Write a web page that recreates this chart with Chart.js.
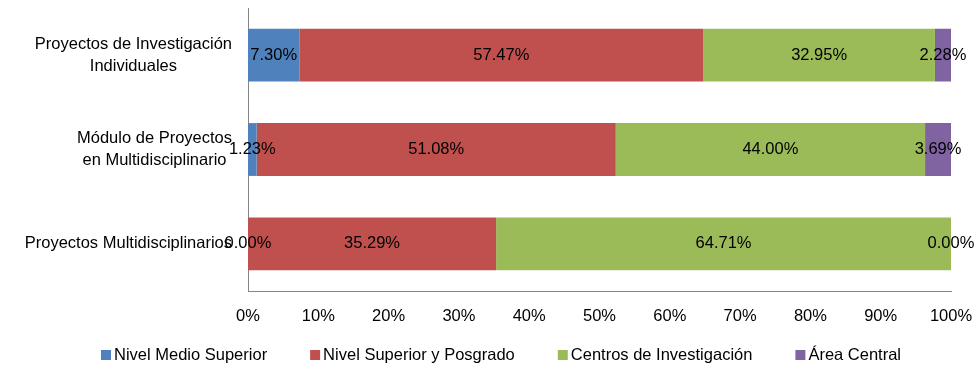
<!DOCTYPE html>
<html lang="es">
<head>
    <meta charset="UTF-8">
    <title>Proyectos por nivel</title>
    <script src="https://cdn.jsdelivr.net/npm/chart.js"></script>
    <style>
        html, body { margin: 0; padding: 0; background: #fff; }
        #grafico_wrap { width: 976px; height: 369px; }
    </style>
</head>
<body>
    <div id="grafico_wrap">
        <canvas id="grafico_proyectos"></canvas>
    </div>

<script>
// categorias (cada una puede ir en varias lineas)
const categorias = [
    ['Proyectos de Investigación', 'Individuales'],
    ['Módulo de Proyectos', 'en Multidisciplinario'],
    ['Proyectos Multidisciplinarios']
];

const nombresSeries = ['Nivel Medio Superior', 'Nivel Superior y Posgrado', 'Centros de Investigación', 'Área Central'];

// porcentajes por categoria
const medioSuperior = [7.30, 1.23, 0.00];
const superiorPosgrado = [57.47, 51.08, 35.29];
const centrosInvestigacion = [32.95, 44.00, 64.71];
const areaCentral = [2.28, 3.69, 0.00];

const ticksX = [0, 10, 20, 30, 40, 50, 60, 70, 80, 90, 100];

const colores = ['#4F81BD', '#C0504D', '#9BBB59', '#8064A2'];
const fuente = '"Liberation Sans", Arial, sans-serif';
const tamano = 16.5;

const valores = [medioSuperior, superiorPosgrado, centrosInvestigacion, areaCentral];

let dados = {
    labels: categorias.map(c => c.join(' ')),
    datasets: nombresSeries.map(function (nombre, i) {
        return {
            label: nombre,
            data: valores[i],
            backgroundColor: colores[i],
            borderWidth: 0,
            barPercentage: 0.56,
            categoryPercentage: 1
        };
    })
};

// etiquetas de valor dentro de cada barra
const etiquetasValor = {
    id: 'etiquetasValor',
    afterDatasetsDraw(chart) {
        const ctx = chart.ctx;
        ctx.save();
        ctx.font = tamano + 'px ' + fuente;
        ctx.fillStyle = '#000';
        ctx.textAlign = 'center';
        ctx.textBaseline = 'middle';
        chart.data.datasets.forEach(function (ds, i) {
            chart.getDatasetMeta(i).data.forEach(function (bar, j) {
                const x = (bar.x + bar.base) / 2;
                ctx.fillText(ds.data[j].toFixed(2) + '%', x, bar.y);
            });
        });
        ctx.restore();
    }
};

// etiquetas de categoria centradas linea por linea
const etiquetasCategoria = {
    id: 'etiquetasCategoria',
    afterDraw(chart) {
        const ctx = chart.ctx;
        const escalaY = chart.scales.y;
        ctx.save();
        ctx.font = tamano + 'px ' + fuente;
        ctx.fillStyle = '#000';
        ctx.textAlign = 'center';
        ctx.textBaseline = 'middle';
        const alto = 22;
        categorias.forEach(function (lineas, i) {
            const y = escalaY.getPixelForValue(i);
            let ancho = 0;
            lineas.forEach(l => { ancho = Math.max(ancho, ctx.measureText(l).width); });
            const cx = escalaY.right - 16 - ancho / 2;
            const y0 = y - (lineas.length - 1) * alto / 2;
            lineas.forEach(function (l, k) {
                ctx.fillText(l, cx, y0 + k * alto);
            });
        });
        ctx.restore();
    }
};

// leyenda abajo
const leyenda = {
    id: 'leyenda',
    afterDraw(chart) {
        const ctx = chart.ctx;
        ctx.save();
        ctx.font = tamano + 'px ' + fuente;
        ctx.textBaseline = 'middle';
        const caja = 10, separacion = 3, entre = 43;
        const anchos = chart.data.datasets.map(ds => ctx.measureText(ds.label).width);
        let total = 0;
        anchos.forEach(a => { total += caja + separacion + a; });
        total += entre * (anchos.length - 1);
        let x = 501 - total / 2;
        const y = 355;
        chart.data.datasets.forEach(function (ds, i) {
            ctx.fillStyle = ds.backgroundColor;
            ctx.fillRect(x, y - caja / 2, caja, caja);
            ctx.fillStyle = '#000';
            ctx.fillText(ds.label, x + caja + separacion, y);
            x += caja + separacion + anchos[i] + entre;
        });
        ctx.restore();
    }
};

const config = {
    type: 'bar',
    data: dados,
    options: {
        indexAxis: 'y',
        responsive: true,
        maintainAspectRatio: false,
        animation: false,
        layout: { padding: { top: 8, right: 25, bottom: 38, left: 0 } },
        plugins: {
            legend: { display: false },
            tooltip: { enabled: false }
        },
        scales: {
            x: {
                stacked: true,
                min: 0,
                max: 100,
                grid: { display: false, drawTicks: false },
                border: { display: true, color: '#868686', width: 1 },
                afterBuildTicks: function (escala) {
                    escala.ticks = ticksX.map(v => ({ value: v }));
                },
                afterFit: function (escala) {
                    escala.height = 40;
                    escala.paddingLeft = 0;
                    escala.paddingRight = 0;
                },
                ticks: {
                    color: '#000',
                    padding: 16,
                    maxRotation: 0,
                    autoSkip: false,
                    font: { family: fuente, size: tamano },
                    callback: v => v + '%'
                }
            },
            y: {
                stacked: true,
                grid: { display: false, drawTicks: false },
                border: { display: true, color: '#868686', width: 1 },
                afterFit: function (escala) { escala.width = 248; },
                ticks: { display: false }
            }
        }
    },
    plugins: [etiquetasValor, etiquetasCategoria, leyenda]
};

var graficoProyectos = new Chart(document.getElementById('grafico_proyectos'), config);
</script>
</body>
</html>
